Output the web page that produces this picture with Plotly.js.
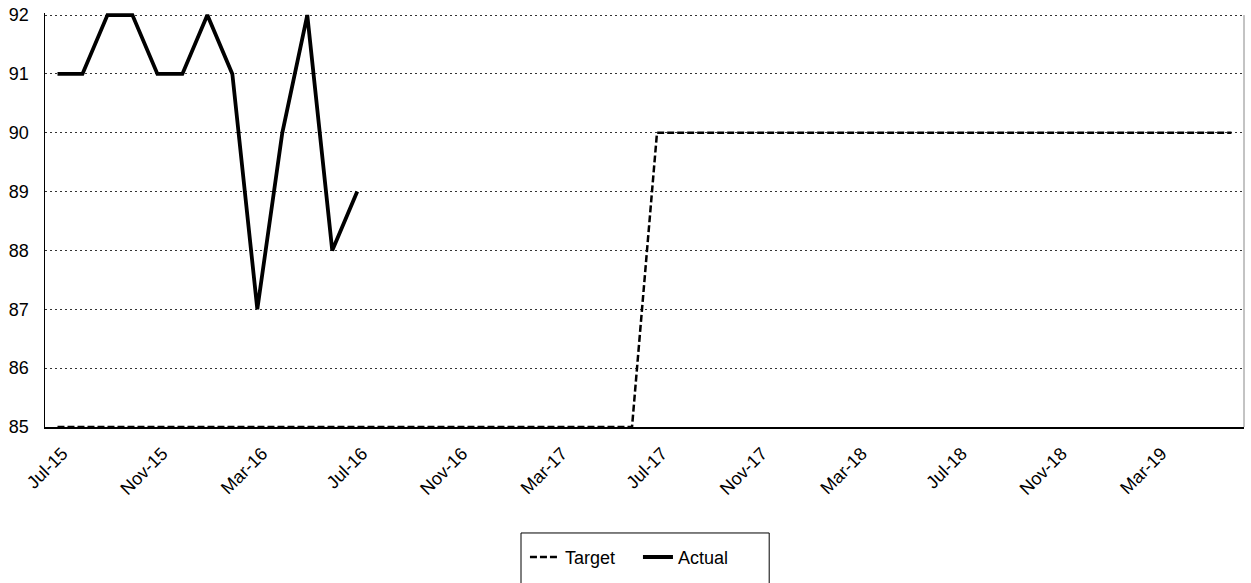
<!DOCTYPE html>
<html>
<head>
<meta charset="utf-8">
<script src="https://cdn.plot.ly/plotly-3.0.1.min.js"></script>
<style>html,body{margin:0;padding:0;background:#fff;}#chart{width:1251px;height:583px;}</style>
</head>
<body>
<div id="chart"></div>
<script>
const months = ["Jul-15","Aug-15","Sep-15","Oct-15","Nov-15","Dec-15","Jan-16","Feb-16","Mar-16","Apr-16","May-16","Jun-16",
"Jul-16","Aug-16","Sep-16","Oct-16","Nov-16","Dec-16","Jan-17","Feb-17","Mar-17","Apr-17","May-17","Jun-17",
"Jul-17","Aug-17","Sep-17","Oct-17","Nov-17","Dec-17","Jan-18","Feb-18","Mar-18","Apr-18","May-18","Jun-18",
"Jul-18","Aug-18","Sep-18","Oct-18","Nov-18","Dec-18","Jan-19","Feb-19","Mar-19","Apr-19","May-19","Jun-19"];
const target = [85,85,85,85,85,85,85,85,85,85,85,85,
85,85,85,85,85,85,85,85,85,85,85,85,
90,90,90,90,90,90,90,90,90,90,90,90,
90,90,90,90,90,90,90,90,90,90,90,90];
const actualMonths = ["Jul-15","Aug-15","Sep-15","Oct-15","Nov-15","Dec-15","Jan-16","Feb-16","Mar-16","Apr-16","May-16","Jun-16","Jul-16"];
const actual = [91,91,92,92,91,91,92,91,87,90,92,88,89];
const tickLabels = ["Jul-15","Nov-15","Mar-16","Jul-16","Nov-16","Mar-17","Jul-17","Nov-17","Mar-18","Jul-18","Nov-18","Mar-19"];
const yTicks = [85,86,87,88,89,90,91,92];

const font = {family: "Liberation Sans, Arial, sans-serif", size: 18, color: "#000"};

const data = [
  {x: months, y: target, type: "scatter", mode: "lines", name: "Target",
   line: {color: "#000", width: 2.5, dash: "7px,3px"}, cliponaxis: false},
  {x: actualMonths, y: actual, type: "scatter", mode: "lines", name: "Actual",
   line: {color: "#000", width: 3.8}, cliponaxis: false}
];

const layout = {
  width: 1251, height: 583,
  margin: {l: 45, r: 7, t: 13, b: 156},
  paper_bgcolor: "#fff", plot_bgcolor: "#fff",
  font: font,
  showlegend: true,
  legend: {orientation: "h", x: 0.4003, xanchor: "left", y: -0.27, yanchor: "top",
           bgcolor: "rgba(0,0,0,0)", borderwidth: 0, font: font, itemwidth: 30,
           entrywidth: 68, entrywidthmode: "pixels"},
  xaxis: {type: "category", categoryorder: "array", categoryarray: months,
          range: [-0.5, 47.5], tickmode: "array", tickvals: tickLabels, ticktext: tickLabels,
          tickangle: -45, showgrid: false, zeroline: false, showline: true,
          linecolor: "#000", linewidth: 2, ticks: "", ticklabelstandoff: 7, ticklabelshift: 5,
          layer: "below traces", tickfont: font},
  yaxis: {range: [85, 92.035], tickmode: "array", tickvals: yTicks, ticktext: yTicks.map(String),
          showgrid: true, gridcolor: "#333", gridwidth: 1, griddash: "2px,3px",
          zeroline: false, showline: true, linecolor: "#000", linewidth: 1.5,
          ticks: "", ticklabelstandoff: 11, layer: "below traces", tickfont: font},
  shapes: [
    {type: "line", xref: "paper", yref: "paper", x0: 1, x1: 1, y0: 0, y1: 0.995,
     line: {color: "#888", width: 1}},
    {type: "rect", xref: "paper", yref: "paper", x0: 0.397, x1: 0.604, y0: -0.256, y1: -0.40,
     line: {color: "#000", width: 1}, fillcolor: "rgba(0,0,0,0)"}
  ]
};

Plotly.newPlot("chart", data, layout, {displayModeBar: false, staticPlot: true});
</script>
</body>
</html>
